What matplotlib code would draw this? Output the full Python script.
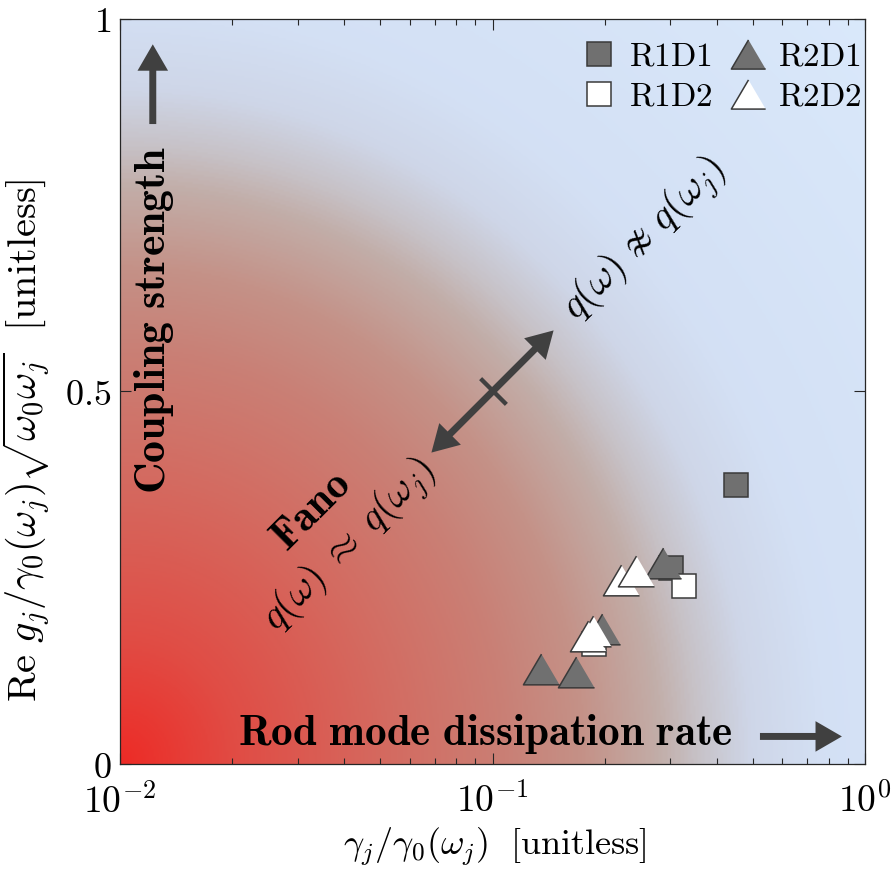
import numpy as np
import matplotlib
matplotlib.use('Agg')
import matplotlib.pyplot as plt
from matplotlib.colors import LinearSegmentedColormap

plt.rcParams['mathtext.fontset'] = 'cm'
plt.rcParams['font.family'] = ['DejaVu Serif']

# data
r1d1_x = [0.451, 0.301]
r1d1_y = [0.3745, 0.263]
r1d2_x = [0.327, 0.187]
r1d2_y = [0.239, 0.161]
r2d1_x = [0.287, 0.197, 0.135, 0.1675]
r2d1_y = [0.270, 0.181, 0.1275, 0.1235]
r2d2_x = [0.221, 0.2426, 0.186, 0.181]
r2d2_y = [0.247, 0.259, 0.179, 0.172]

x_ticks = [1e-2, 1e-1, 1e0]
x_ticklabels = [r'$10^{-2}$', r'$10^{-1}$', r'$10^{0}$']
y_ticks = [0, 0.5, 1]
y_ticklabels = [r'$\mathbf{0}$', r'$\mathbf{0.5}$', r'$\mathbf{1}$']

# background colour ramp (radial from the lower left corner)
ramp_pos = [0.0, 0.15, 0.35, 0.5, 0.6, 0.7, 0.75, 0.82, 0.92, 1.42]
ramp_col = [(0.93, 0.17, 0.15), (0.88, 0.30, 0.27), (0.83, 0.42, 0.38),
            (0.79, 0.50, 0.46), (0.77, 0.57, 0.53), (0.76, 0.68, 0.66),
            (0.78, 0.76, 0.78), (0.81, 0.84, 0.91), (0.83, 0.88, 0.96),
            (0.86, 0.92, 0.99)]

cmap = LinearSegmentedColormap.from_list(
    'bg', [(p / ramp_pos[-1], c) for p, c in zip(ramp_pos, ramp_col)])

fig = plt.figure(figsize=(8.93, 8.71), dpi=100)
ax = fig.add_axes([120 / 893, 107 / 871, 745 / 893, 745 / 871])

u, v = np.meshgrid(np.linspace(0, 1, 400), np.linspace(0, 1, 400))
r = 0.966 * np.sqrt(u ** 2 + (0.935 * v) ** 2)
ax.imshow(r, origin='lower', extent=[0, 1, 0, 1], transform=ax.transAxes,
          cmap=cmap, vmin=0, vmax=ramp_pos[-1], aspect='auto', zorder=0,
          interpolation='bilinear')

tri = [(0, 0.85), (-1, -0.85), (1, -0.85)]
dark = '#707070'
edge = '#3a3a3a'
ax.plot(r1d1_x, r1d1_y, ls='none', marker='s', ms=17.5, mfc=dark, mec=edge,
        mew=1.1, label=r'$\mathrm{R1D1}$', zorder=3)
ax.plot(r1d2_x, r1d2_y, ls='none', marker='s', ms=17.5, mfc='white', mec=edge,
        mew=1.1, label=r'$\mathrm{R1D2}$', zorder=3)
ax.plot(r2d1_x, r2d1_y, ls='none', marker=tri, ms=26, mfc=dark, mec=edge,
        mew=1.1, label=r'$\mathrm{R2D1}$', zorder=3)
ax.plot(r2d2_x, r2d2_y, ls='none', marker=tri, ms=26, mfc='white', mec=edge,
        mew=1.1, label=r'$\mathrm{R2D2}$', zorder=3)

ax.set_xscale('log')
ax.set_xlim(1e-2, 1)
ax.set_ylim(0, 1)
ax.set_xticks(x_ticks)
ax.set_xticklabels(x_ticklabels, fontsize=27)
ax.set_yticks(y_ticks)
ax.set_yticklabels(y_ticklabels, fontsize=26)
ax.tick_params(which='both', direction='in', top=True, right=True,
               color='#262626')
ax.tick_params(which='major', length=8, width=0.8)
ax.tick_params(axis='x', which='major', pad=14)
ax.tick_params(axis='y', which='major', pad=6)
ax.tick_params(which='minor', length=4, width=0.8)
for s in ax.spines.values():
    s.set_color('#262626')
    s.set_linewidth(0.9)

ax.set_xlabel(r'$\gamma_j/\gamma_0(\omega_j)\ \ [\mathrm{unitless}]$', fontsize=26)
ax.set_ylabel(r'$\mathrm{Re}\ g_j/\gamma_0(\omega_j)\sqrt{\omega_0\omega_j}\ \ [\mathrm{unitless}]$',
              fontsize=29)
ax.xaxis.set_label_coords(0.503, -0.083)
ax.yaxis.set_label_coords(-0.09, 0.435)

leg = ax.legend(ncol=2, loc='upper right', bbox_to_anchor=(1.024, 1.0),
                frameon=False, fontsize=24, handlelength=0.9,
                handletextpad=0.45, columnspacing=0.6, labelspacing=0.25,
                markerscale=0.95, borderaxespad=0.25)

arrow_kw = dict(width=5, headwidth=22, headlength=19, facecolor='#404040',
                edgecolor='none', shrink=0)
# single arrows
ax.annotate('', xy=(0.044, 0.966), xytext=(0.044, 0.859), xycoords='axes fraction',
            arrowprops=arrow_kw)
ax.annotate('', xy=(0.969, 0.037), xytext=(0.859, 0.037), xycoords='axes fraction',
            arrowprops=arrow_kw)
# double arrow through the centre
ax.annotate('', xy=(0.582, 0.582), xytext=(0.5, 0.5), xycoords='axes fraction',
            arrowprops=arrow_kw)
ax.annotate('', xy=(0.418, 0.418), xytext=(0.5, 0.5), xycoords='axes fraction',
            arrowprops=arrow_kw)
ax.plot([0.5], [0.5], transform=ax.transAxes, marker=(2, 2, 45), ms=26,
        mew=2.8, color='#404040', clip_on=False)

ax.text(0.046, 0.596, r'$\mathbf{Coupling\ strength}$', transform=ax.transAxes,
        rotation=90, ha='center', va='center', fontsize=31.5)
ax.text(0.491, 0.04, r'$\mathbf{Rod\ mode\ dissipation\ rate}$',
        transform=ax.transAxes, ha='center', va='center', fontsize=31)
ax.text(0.705, 0.703, r'$q(\omega)\ ≉\ q(\omega_j)$', transform=ax.transAxes,
        rotation=45, rotation_mode='anchor', ha='center', va='center', fontsize=29)
ax.text(0.257, 0.340, r'$\mathbf{Fano}$', transform=ax.transAxes,
        rotation=45, rotation_mode='anchor', ha='center', va='center', fontsize=31)
ax.text(0.309, 0.293, r'$q(\omega)\;\approx\;q(\omega_j)$', transform=ax.transAxes,
        rotation=45, rotation_mode='anchor', ha='center', va='center', fontsize=29)

fig.savefig('out.png', dpi=100)
